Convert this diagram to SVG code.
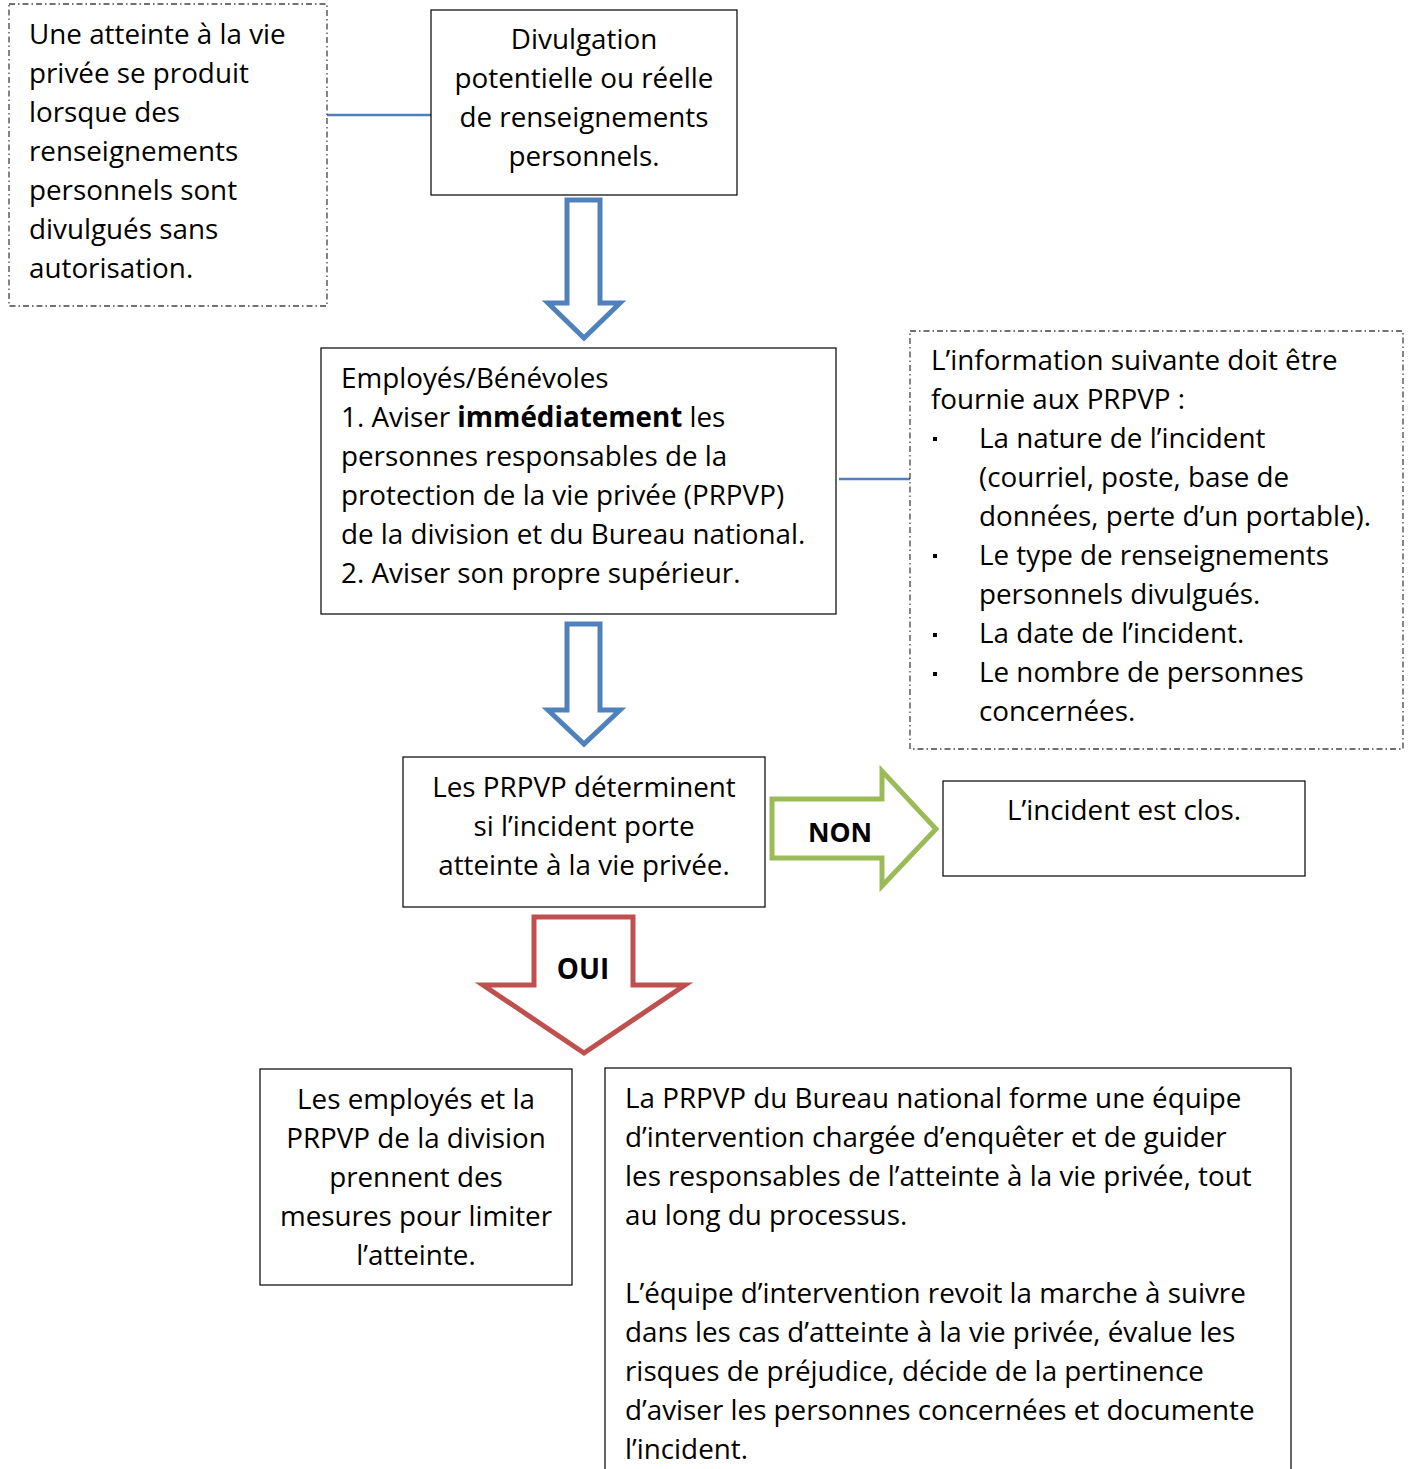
<svg xmlns="http://www.w3.org/2000/svg" width="1411" height="1469" viewBox="0 0 1411 1469">
<style>
text{font-family:"Open Sans","Noto Sans","DejaVu Sans",sans-serif;font-size:27.8px;fill:#000}
.c{text-anchor:middle}
.b{font-weight:bold}
.box{fill:#fff;stroke:#000;stroke-width:1.2}
.dash{fill:#fff;stroke:#444;stroke-width:1.3;stroke-dasharray:6 3 1.5 3}
.conn{stroke:#4F81BD;stroke-width:2.5;fill:none}
</style>
<rect width="1411" height="1469" fill="#fff"/>
<g id="connectors">
<line class="conn" x1="327" y1="115" x2="431" y2="115"/>
<line class="conn" x1="839" y1="479" x2="910" y2="479"/>
<polygon points="567,200 600,200 600,303 620,303 584,338 548,303 567,303" fill="#fff" stroke="#4F81BD" stroke-width="5" stroke-linejoin="miter"/>
<polygon points="567,624 600,624 600,710 620,710 584,744 548,710 567,710" fill="#fff" stroke="#4F81BD" stroke-width="5" stroke-linejoin="miter"/>
<g id="non">
<polygon points="772,799 882,799 882,771 936,829 882,886 882,858 772,858" fill="#fff" stroke="#9BBB59" stroke-width="5"/>
<text class="c b" x="840" y="842" style="font-size:26.5px">NON</text>
</g>
<g id="oui">
<polygon points="534,917 633,917 633,985 685,985 584,1053 483,985 534,985" fill="#fff" stroke="#C0504D" stroke-width="5"/>
<text class="c b" x="583" y="979">OUI</text>
</g>
</g>
<g id="n-definition">
<rect class="dash" x="9" y="4" width="318" height="302"/>
<text x="29" y="44">Une atteinte à la vie</text>
<text x="29" y="83">privée se produit</text>
<text x="29" y="122">lorsque des</text>
<text x="29" y="161">renseignements</text>
<text x="29" y="200">personnels sont</text>
<text x="29" y="239">divulgués sans</text>
<text x="29" y="278">autorisation.</text>
</g>
<g id="n-divulgation">
<rect class="box" x="431" y="10" width="306" height="185"/>
<text class="c" x="584" y="49">Divulgation</text>
<text class="c" x="584" y="88">potentielle ou réelle</text>
<text class="c" x="584" y="127">de renseignements</text>
<text class="c" x="584" y="166">personnels.</text>
</g>
<g id="n-employes">
<rect class="box" x="321" y="348" width="515" height="266"/>
<text x="341" y="388">Employés/Bénévoles</text>
<text x="341" y="427">1. Aviser <tspan class="b">immédiatement</tspan> les</text>
<text x="341" y="466">personnes responsables de la</text>
<text x="341" y="505">protection de la vie privée (PRPVP)</text>
<text x="341" y="544">de la division et du Bureau national.</text>
<text x="341" y="583">2. Aviser son propre supérieur.</text>
</g>
<g id="n-information">
<rect class="dash" x="910" y="331" width="493" height="418"/>
<text x="931" y="370">L’information suivante doit être</text>
<text x="931" y="409">fournie aux PRPVP :</text>
<rect x="933" y="437" width="4" height="4" fill="#000"/>
<text x="979" y="448">La nature de l’incident</text>
<text x="979" y="487">(courriel, poste, base de</text>
<text x="979" y="526">données, perte d’un portable).</text>
<rect x="933" y="554" width="4" height="4" fill="#000"/>
<text x="979" y="565">Le type de renseignements</text>
<text x="979" y="604">personnels divulgués.</text>
<rect x="933" y="633" width="4" height="4" fill="#000"/>
<text x="979" y="643">La date de l’incident.</text>
<rect x="933" y="672" width="4" height="4" fill="#000"/>
<text x="979" y="682">Le nombre de personnes</text>
<text x="979" y="721">concernées.</text>
</g>
<g id="n-determinent">
<rect class="box" x="403" y="757" width="362" height="150"/>
<text class="c" x="584" y="797">Les PRPVP déterminent</text>
<text class="c" x="584" y="836">si l’incident porte</text>
<text class="c" x="584" y="875">atteinte à la vie privée.</text>
</g>
<g id="n-clos">
<rect class="box" x="943" y="781" width="362" height="95"/>
<text class="c" x="1124" y="820">L’incident est clos.</text>
</g>
<g id="n-mesures">
<rect class="box" x="260" y="1069" width="312" height="216"/>
<text class="c" x="416" y="1109">Les employés et la</text>
<text class="c" x="416" y="1148">PRPVP de la division</text>
<text class="c" x="416" y="1187">prennent des</text>
<text class="c" x="416" y="1226">mesures pour limiter</text>
<text class="c" x="416" y="1265">l’atteinte.</text>
</g>
<g id="n-equipe">
<rect class="box" x="605" y="1068" width="686" height="410"/>
<text x="625" y="1108">La PRPVP du Bureau national forme une équipe</text>
<text x="625" y="1147">d’intervention chargée d’enquêter et de guider</text>
<text x="625" y="1186">les responsables de l’atteinte à la vie privée, tout</text>
<text x="625" y="1225">au long du processus.</text>
<text x="625" y="1303">L’équipe d’intervention revoit la marche à suivre</text>
<text x="625" y="1342">dans les cas d’atteinte à la vie privée, évalue les</text>
<text x="625" y="1381">risques de préjudice, décide de la pertinence</text>
<text x="625" y="1420">d’aviser les personnes concernées et documente</text>
<text x="625" y="1459">l’incident.</text>
</g>
</svg>
